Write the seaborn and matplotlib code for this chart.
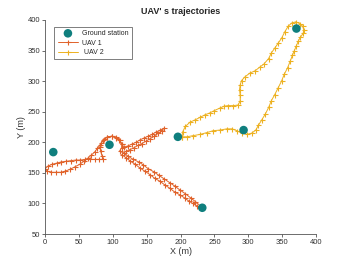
import numpy as np
import pandas as pd
import matplotlib
matplotlib.use('Agg')
import matplotlib.pyplot as plt
import seaborn as sns

# ground stations
gs_x = [12, 95, 232, 196, 293, 371]
gs_y = [184, 196, 93, 209, 220, 386]

# UAV 1 trajectory
uav1_x = [229, 222, 215, 207, 199, 192, 184, 176, 168, 160, 152, 145, 138, 130, 123, 116, 110,
          113, 113, 110, 105, 99, 92, 87, 83, 81, 82, 84, 86,
          80, 73, 66, 59, 52, 45, 38, 31, 24, 17, 10, 4, 0,
          3, 9, 16, 23, 30, 37, 44, 51, 57, 63, 68, 73, 77, 81,
          85, 91, 98, 104, 109, 113, 116,
          122, 128, 134, 140, 146, 152, 158, 164, 170, 175,
          173, 167, 161, 155, 149, 143, 137, 131, 125, 119,
          113, 119, 126, 133, 140, 147, 155, 162, 170, 177, 184, 191, 199, 206, 212, 218, 224, 228]
uav1_y = [96, 103, 109, 116, 122, 128, 134, 140, 146, 152, 157, 163, 168, 172, 177, 182, 186,
          191, 197, 203, 207, 210, 209, 205, 199, 192, 185, 178, 172,
          172, 172, 172, 172, 171, 171, 170, 169, 168, 166, 164, 161, 157,
          153, 151, 151, 151, 153, 156, 160, 164, 169, 174, 179, 184, 190, 196,
          203, 208, 210, 208, 204, 198, 192,
          194, 197, 200, 204, 207, 210, 213, 217, 220, 223,
          219, 215, 210, 206, 202, 198, 195, 191, 188, 185,
          180, 175, 169, 164, 158, 153, 147, 141, 136, 130, 125, 119, 114, 109, 104, 100, 96, 94]

# UAV 2 trajectory
uav2_x = [202, 203, 207, 214, 222, 229, 236, 243, 250, 258, 264, 270, 278, 285, 288, 288, 287,
          288, 290, 295, 302, 310, 317, 323, 330, 334, 339, 344, 349, 354, 359, 364, 370, 376,
          380, 382, 381, 377, 374, 371, 368, 365, 362, 358, 353, 349, 344, 339, 334, 330, 325,
          320, 315, 311, 305, 298, 290, 283, 276, 268, 258, 248, 239, 229, 219, 209, 202]
uav2_y = [209, 217, 226, 233, 237, 241, 245, 248, 252, 256, 259, 260, 260, 261, 268, 277, 286,
          294, 301, 307, 313, 317, 323, 328, 337, 346, 354, 362, 370, 381, 390, 395, 397, 394,
          390, 384, 378, 372, 366, 358, 350, 342, 333, 322, 311, 300, 289, 278, 268, 257, 246,
          237, 228, 220, 215, 213, 215, 219, 222, 222, 220, 219, 216, 213, 211, 209, 209]

gs = pd.DataFrame({'x': gs_x, 'y': gs_y})
u1 = pd.DataFrame({'x': uav1_x, 'y': uav1_y})
u2 = pd.DataFrame({'x': uav2_x, 'y': uav2_y})

c_gs, c1, c2 = '#0F7F7E', '#E0622A', '#EDB120'

sns.set_style('ticks')
plt.rcParams['font.family'] = ['Liberation Sans', 'DejaVu Sans']

fig = plt.figure(figsize=(3.5, 2.63), dpi=100)
ax = fig.add_axes([0.129, 0.110, 0.774, 0.814])

sns.scatterplot(data=gs, x='x', y='y', color=c_gs, s=38, edgecolor='none',
                label='Ground station', ax=ax, zorder=3)
sns.lineplot(data=u1, x='x', y='y', sort=False, estimator=None, color=c1,
             marker='+', markersize=3.6, mew=0.8, mec=c1, linewidth=0.7, label='UAV 1', ax=ax)
sns.lineplot(data=u2, x='x', y='y', sort=False, estimator=None, color=c2,
             marker='+', markersize=3.6, mew=0.8, mec=c2, linewidth=0.7, label=' UAV 2', ax=ax)

ax.set_xlim(0, 400)
ax.set_ylim(50, 400)
ax.set_xticks(range(0, 401, 50))
ax.set_yticks(range(50, 401, 50))
ax.tick_params(labelsize=5.5, length=2, width=0.5, colors='#333333', pad=1.5)
for s in ['top', 'right']:
    ax.spines[s].set_visible(False)
for s in ['left', 'bottom']:
    ax.spines[s].set_linewidth(0.6)
    ax.spines[s].set_color('#555555')
ax.set_xlabel('X (m)', fontsize=6.5, labelpad=1, color='#333333')
ax.set_ylabel('Y (m)', fontsize=6.5, labelpad=1, color='#333333')
ax.set_title("UAV' s trajectories", fontsize=6.5, fontweight='bold', pad=4)

leg = ax.legend(loc='upper left', bbox_to_anchor=(0.02, 0.985), fontsize=5, frameon=True,
                fancybox=False, edgecolor='#444444', borderpad=0.5, handlelength=3,
                labelspacing=0.35, handletextpad=0.5)
leg.get_frame().set_linewidth(0.6)

fig.savefig('out.png', dpi=100)
